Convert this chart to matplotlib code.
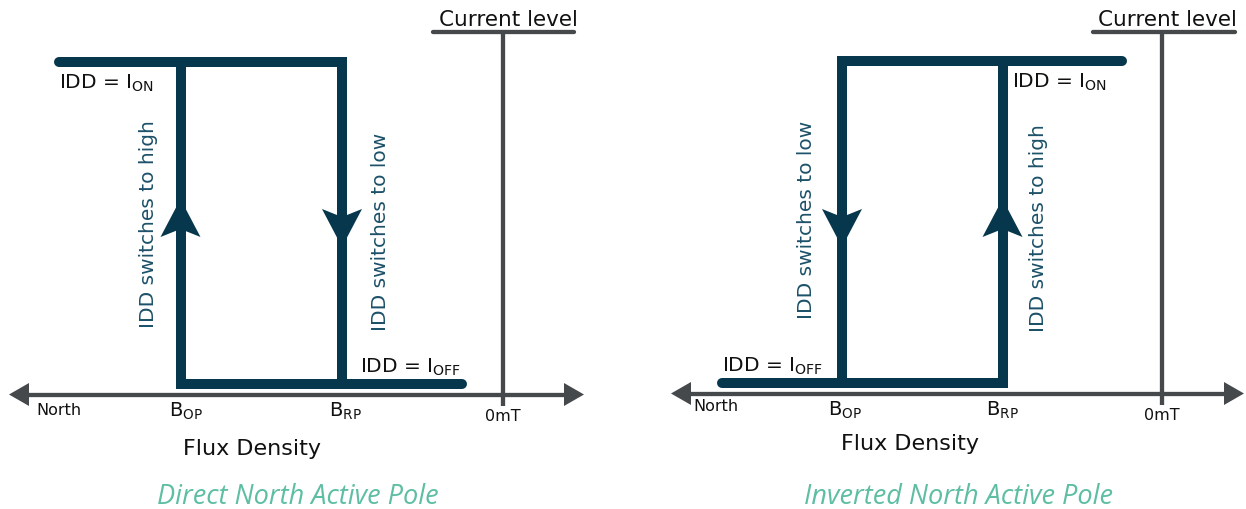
import matplotlib
matplotlib.use("Agg")
import matplotlib.pyplot as plt

# ---------------- data (pixel-space diagram coordinates) ----------------
panel_titles = ["Direct North Active Pole", "Inverted North Active Pole"]
switch_labels_left = ["IDD switches to high", "IDD switches to low"]
switch_labels_right = ["IDD switches to low", "IDD switches to high"]
tick_labels = ["North", "B$_{\\mathregular{OP}}$", "B$_{\\mathregular{RP}}$", "0mT"]
on_label = "IDD = I$_{\\mathregular{ON}}$"
off_label = "IDD = I$_{\\mathregular{OFF}}$"
xlabel_text = "Flux Density"
ylabel_text = "Current level"

# positions of thresholds per panel
x_bop = [180.5, 842.0]
x_brp = [342.0, 1002.5]
x_zero = [503.0, 1162.0]
y_on = [62.5, 62.0]
y_off = [385.0, 384.0]
axis_y = [395.5, 394.5]
axis_left_tip = [9.0, 671.0]
axis_right_tip = [584.0, 1244.0]
on_line_end = [54.0, 1127.0]     # free end of IDD=ION segment
off_line_end = [467.0, 717.0]    # free end of IDD=IOFF segment
cap_left = [431.0, 1091.0]
cap_right = [576.0, 1237.0]
cap_y = [32.5, 32.5]

DARK = "#06374c"
GRAY = "#46494c"
TXT = "#111111"
ROT = "#1c5169"
TEAL = "#5dbea3"

fig = plt.figure(figsize=(12.46, 5.10), dpi=100)
ax = fig.add_axes([0, 0, 1, 1])
ax.set_xlim(0, 1246)
ax.set_ylim(510, 0)
ax.axis("off")

LW = 7.2     # 10 px
GLW = 3.1    # ~4.3 px


def arrow_on_line(x, y_tip, y_barb, y_notch, half=20):
    ax.fill([x, x - half, x, x + half], [y_tip, y_barb, y_notch, y_barb],
            color=DARK, lw=0, zorder=5)


for i in range(2):
    # horizontal axis
    ay = axis_y[i]
    ax.plot([axis_left_tip[i] + 18, axis_right_tip[i] - 18], [ay, ay],
            color=GRAY, lw=GLW, solid_capstyle="butt", zorder=2)
    ax.fill([axis_left_tip[i], axis_left_tip[i] + 20, axis_left_tip[i] + 20],
            [ay, ay - 11.5, ay + 11.5], color=GRAY, lw=0, zorder=2)
    ax.fill([axis_right_tip[i], axis_right_tip[i] - 20, axis_right_tip[i] - 20],
            [ay, ay - 11.5, ay + 11.5], color=GRAY, lw=0, zorder=2)
    # current level vertical + cap
    ax.plot([x_zero[i], x_zero[i]], [cap_y[i], ay + 11], color=GRAY, lw=GLW,
            solid_capstyle="butt", zorder=2)
    ax.plot([cap_left[i] + 2, cap_right[i] - 2], [cap_y[i], cap_y[i]], color=GRAY,
            lw=GLW, solid_capstyle="round", zorder=2)

    # hysteresis loop
    if i == 0:
        p1x = [on_line_end[i] + 5, x_brp[i], x_brp[i], off_line_end[i] - 5]
        p1y = [y_on[i], y_on[i], y_off[i], y_off[i]]
        p2x = [x_bop[i], x_bop[i], x_brp[i]]
        p2y = [y_on[i], y_off[i], y_off[i]]
    else:
        p1x = [off_line_end[i] + 5, x_brp[i], x_brp[i], on_line_end[i] - 5]
        p1y = [y_off[i], y_off[i], y_on[i], y_on[i]]
        p2x = [x_bop[i], x_bop[i], x_brp[i]]
        p2y = [y_off[i], y_on[i], y_on[i]]
    ax.plot(p1x, p1y, color=DARK, lw=LW, solid_capstyle="round",
            solid_joinstyle="miter", zorder=4)
    ax.plot(p2x, p2y, color=DARK, lw=LW, solid_capstyle="butt",
            solid_joinstyle="miter", zorder=4)

    # direction arrows
    if i == 0:
        arrow_on_line(x_bop[i], 200, 238, 230)   # up
        arrow_on_line(x_brp[i], 248, 210, 218)   # down
    else:
        arrow_on_line(x_bop[i], 248, 210, 218)   # down
        arrow_on_line(x_brp[i], 200, 238, 230)   # up

# ---------------- texts ----------------
fs_main = 14.5
# current level label
ax.text(508, 25.5, ylabel_text, fontsize=15.5, color=TXT, ha="center", va="baseline")
ax.text(1167, 25.5, ylabel_text, fontsize=15.5, color=TXT, ha="center", va="baseline")

# ON / OFF labels
ax.text(59, 88.5, on_label, fontsize=fs_main, color=TXT, ha="left", va="baseline")
ax.text(360, 372.5, off_label, fontsize=fs_main, color=TXT, ha="left", va="baseline")
ax.text(1012, 88.0, on_label, fontsize=fs_main, color=TXT, ha="left", va="baseline")
ax.text(722, 372.0, off_label, fontsize=fs_main, color=TXT, ha="left", va="baseline")

# rotated switch labels
ax.text(148, 224, switch_labels_left[0], fontsize=fs_main, color=ROT, rotation=90,
        ha="center", va="center")
ax.text(380, 232, switch_labels_left[1], fontsize=fs_main, color=ROT, rotation=90,
        ha="center", va="center")
ax.text(807, 220, switch_labels_right[0], fontsize=fs_main, color=ROT, rotation=90,
        ha="center", va="center")
ax.text(1039, 228, switch_labels_right[1], fontsize=fs_main, color=ROT, rotation=90,
        ha="center", va="center")

# tick-like labels
ax.text(36, 415, tick_labels[0], fontsize=11.5, color=TXT, ha="left", va="baseline")
ax.text(169, 417, tick_labels[1], fontsize=14, color=TXT, ha="left", va="baseline")
ax.text(329, 417, tick_labels[2], fontsize=14, color=TXT, ha="left", va="baseline")
ax.text(x_zero[0], 421.5, tick_labels[3], fontsize=11.5, color=TXT, ha="center", va="baseline")

ax.text(693, 411, tick_labels[0], fontsize=11.5, color=TXT, ha="left", va="baseline")
ax.text(828, 416, tick_labels[1], fontsize=14, color=TXT, ha="left", va="baseline")
ax.text(986, 416, tick_labels[2], fontsize=14, color=TXT, ha="left", va="baseline")
ax.text(x_zero[1], 420.5, tick_labels[3], fontsize=11.5, color=TXT, ha="center", va="baseline")

# axis titles
ax.text(252, 455, xlabel_text, fontsize=16, color=TXT, ha="center", va="baseline")
ax.text(910, 450, xlabel_text, fontsize=16, color=TXT, ha="center", va="baseline")

# panel titles
ax.text(298, 504, panel_titles[0], fontsize=19.5, color=TEAL, ha="center", va="baseline",
        family="Open Sans", style="italic")
ax.text(958, 504, panel_titles[1], fontsize=19.5, color=TEAL, ha="center", va="baseline",
        family="Open Sans", style="italic")

fig.savefig("out.png", dpi=100)
